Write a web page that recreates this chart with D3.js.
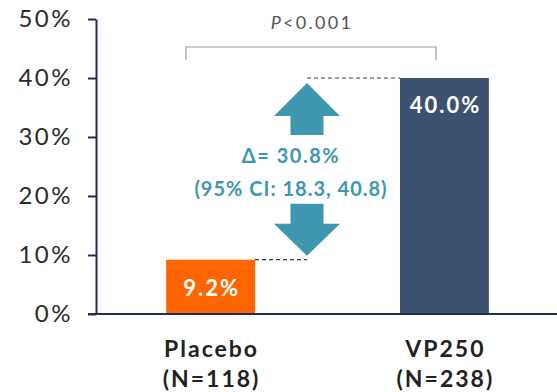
<!DOCTYPE html>
<html>
<head>
<meta charset="utf-8">
<script src="https://cdn.jsdelivr.net/npm/d3@7"></script>
<style>
  html, body { margin: 0; padding: 0; background: #fff; }
  svg { display: block; font-family: Lato, "DejaVu Sans", sans-serif; }
</style>
</head>
<body>
<svg id="chart" width="557" height="392"></svg>
<script>
// Response rates by treatment group
const categories = ["Placebo", "VP250"];
const nLabels = ["(N=118)", "(N=238)"];
const values = [9.2, 40.0];
const valueLabels = ["9.2%", "40.0%"];
const barColors = ["#FF6600", "#3D5170"];
const yTicks = [0, 10, 20, 30, 40, 50];
const pLabel = "<0.001";
const deltaLabel = "\u0394= 30.8%";
const ciLabel = "(95% CI: 18.3, 40.8)";

const svg = d3.select("#chart");
const axisColor = "#1F2D4E";
const teal = "#3E97AE";

const y = d3.scaleLinear().domain([0, 50]).range([314, 19]);
const x = d3.scaleBand().domain(categories).range([96, 559]).paddingInner(0.62).paddingOuter(0.3);

// y axis
const yAxis = svg.append("g").attr("transform", "translate(96,0)")
  .call(d3.axisLeft(y).tickValues(yTicks).tickFormat(d => d + "%").tickSize(8).tickSizeOuter(0));
yAxis.select(".domain").attr("stroke", axisColor).attr("stroke-width", 2);
yAxis.selectAll(".tick line").attr("stroke", axisColor).attr("stroke-width", 2);
yAxis.selectAll(".tick text").attr("x", -23).attr("fill", "#2b2b2b")
  .style("font-size", "24px").style("font-family", "Lato, sans-serif")
  .attr("letter-spacing", "2.5px");

// x axis baseline
svg.append("line").attr("x1", 88).attr("x2", 557).attr("y1", y(0)).attr("y2", y(0))
  .attr("stroke", axisColor).attr("stroke-width", 2);

// bars
svg.selectAll("rect.bar").data(categories).join("rect")
  .attr("class", "bar")
  .attr("x", d => x(d))
  .attr("width", x.bandwidth())
  .attr("y", (d, i) => y(values[i]))
  .attr("height", (d, i) => y(0) - y(values[i]) - 1)
  .attr("fill", (d, i) => barColors[i]);

// value labels inside bars
svg.selectAll("text.val").data(categories).join("text")
  .attr("class", "val")
  .attr("x", d => x(d) + x.bandwidth() / 2 + 1)
  .attr("y", (d, i) => i === 0 ? y(values[i]) + 36 : y(values[i]) + 35)
  .attr("text-anchor", "middle")
  .attr("fill", "#fff").attr("font-weight", "bold").style("font-size", "22px")
  .attr("letter-spacing", "2px")
  .text((d, i) => valueLabels[i]);

// category labels
const cat = svg.selectAll("text.cat").data(categories).join("text")
  .attr("class", "cat")
  .attr("text-anchor", "middle")
  .attr("fill", "#222").attr("font-weight", "bold").style("font-size", "23px")
  .attr("letter-spacing", "2px");
cat.append("tspan").attr("x", d => x(d) + x.bandwidth() / 2 + 1).attr("y", 357).text(d => d);
cat.append("tspan").attr("x", d => x(d) + x.bandwidth() / 2 + 1).attr("y", 387).text((d, i) => nLabels[i]);

// significance bracket
const bx1 = 186, bx2 = 436;
svg.append("path")
  .attr("d", `M${bx1},60 V47 H${bx2} V60`)
  .attr("fill", "none").attr("stroke", "#9a9a9a").attr("stroke-width", 1.2);
const pt = svg.append("text").attr("x", (bx1 + bx2) / 2 + 1).attr("y", 29)
  .attr("text-anchor", "middle").attr("fill", "#555").style("font-size", "18px")
  .attr("letter-spacing", "2.3px");
pt.append("tspan").attr("font-style", "italic").text("P");
pt.append("tspan").text(pLabel);

// dashed reference lines from bar tops
const arrowX = 307;
svg.append("line")
  .attr("x1", arrowX).attr("x2", x("VP250")).attr("y1", y(values[1])).attr("y2", y(values[1]))
  .attr("stroke", "#3a3a3a").attr("stroke-width", 1.2).attr("stroke-dasharray", "4,3");
svg.append("line")
  .attr("x1", x("Placebo") + x.bandwidth()).attr("x2", arrowX).attr("y1", y(values[0])).attr("y2", y(values[0]))
  .attr("stroke", "#3a3a3a").attr("stroke-width", 1.2).attr("stroke-dasharray", "4,3");

// difference arrows
const hw = 33, sw = 16.5;
const upTip = y(values[1]) + 5, upHead = upTip + 33, upEnd = upTip + 52;
svg.append("path").attr("fill", teal)
  .attr("d", `M${arrowX},${upTip} L${arrowX + hw},${upHead} L${arrowX + sw},${upHead} L${arrowX + sw},${upEnd} L${arrowX - sw},${upEnd} L${arrowX - sw},${upHead} L${arrowX - hw},${upHead} Z`);
const dnTip = y(values[0]) - 4, dnHead = dnTip - 32, dnEnd = dnTip - 52;
svg.append("path").attr("fill", teal)
  .attr("d", `M${arrowX},${dnTip} L${arrowX + hw},${dnHead} L${arrowX + sw},${dnHead} L${arrowX + sw},${dnEnd} L${arrowX - sw},${dnEnd} L${arrowX - sw},${dnHead} L${arrowX - hw},${dnHead} Z`);

// difference text
svg.append("text").attr("x", 291).attr("y", 163).attr("text-anchor", "middle")
  .attr("fill", teal).attr("font-weight", "bold").style("font-size", "20px")
  .attr("letter-spacing", "1.5px").text(deltaLabel);
svg.append("text").attr("x", 291).attr("y", 196).attr("text-anchor", "middle")
  .attr("fill", teal).attr("font-weight", "bold").style("font-size", "20px")
  .attr("letter-spacing", "1px").text(ciLabel);
</script>
</body>
</html>
